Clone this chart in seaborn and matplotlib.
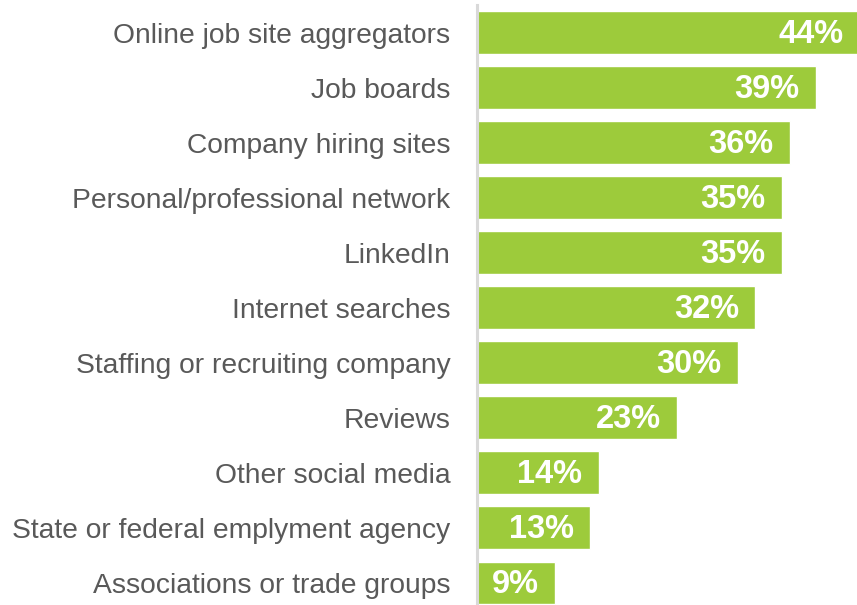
import matplotlib
matplotlib.use("Agg")
import matplotlib.pyplot as plt
import seaborn as sns
import pandas as pd

categories = [
    "Online job site aggregators",
    "Job boards",
    "Company hiring sites",
    "Personal/professional network",
    "LinkedIn",
    "Internet searches",
    "Staffing or recruiting company",
    "Reviews",
    "Other social media",
    "State or federal emplyment agency",
    "Associations or trade groups",
]
values = [44, 39, 36, 35, 35, 32, 30, 23, 14, 13, 9]

df = pd.DataFrame({"source": categories, "share": values})

sns.set_theme(style="white")
plt.rcParams["font.family"] = ["Liberation Sans", "DejaVu Sans"]

W, H, DPI = 857, 605, 100
fig = plt.figure(figsize=(W / DPI, H / DPI), dpi=DPI)
ax = fig.add_axes([477 / W, 0 / H, 380 / W, 600 / H])

bar_color = "#9DCB3B"
sns.barplot(data=df, x="share", y="source", orient="h", color=bar_color,
            width=0.78, saturation=1, ax=ax)

ax.set_xlim(0, 380 / 8.7)
ax.set_ylim(10.4, -0.5)
ax.set_xlabel("")
ax.set_ylabel("")
ax.set_xticks([])

for s in ["top", "right", "bottom"]:
    ax.spines[s].set_visible(False)
ax.spines["left"].set_color("#D9D9D9")
ax.spines["left"].set_linewidth(2.2)

ax.tick_params(axis="y", length=0, pad=19, labelsize=20.3, labelcolor="#595959")

for i, v in enumerate(values):
    ax.text(v - 1.9, i + 0.03, f"{v}%", ha="right", va="center",
            color="white", fontsize=23.5, fontweight="bold")

fig.savefig("out.png", dpi=DPI, facecolor="white")
